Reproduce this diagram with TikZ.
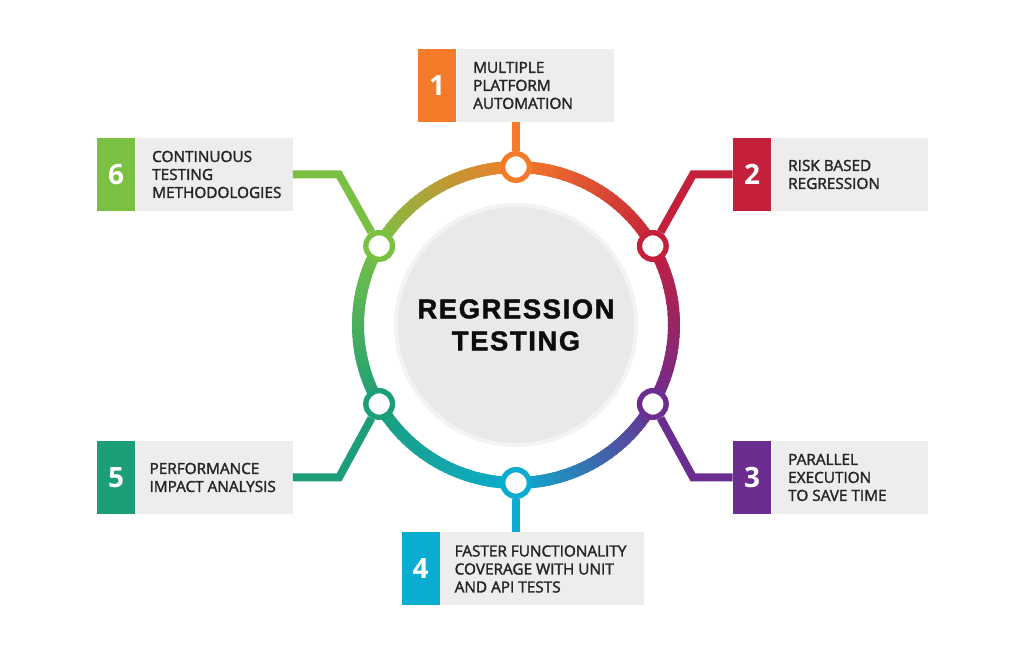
\documentclass[tikz,border=0pt]{standalone}
\usepackage{fontspec}
\setmainfont{Open Sans}
\newfontfamily\hubfont{Liberation Sans}[LetterSpace=6, FakeBold=1.5]
\newfontfamily\boxfont{Open Sans}[FakeBold=2]
\usetikzlibrary{positioning}
\definecolor{cOne}{HTML}{F47B2A}
\definecolor{cTwo}{HTML}{C41F3B}
\definecolor{cThree}{HTML}{6B2D90}
\definecolor{cFour}{HTML}{0AADCF}
\definecolor{cFive}{HTML}{1C9E78}
\definecolor{cSix}{HTML}{7AC143}
\definecolor{boxgrey}{HTML}{EDEDED}
\definecolor{hubgrey}{HTML}{E9E9E9}
\definecolor{hubrim}{HTML}{F3F3F3}
\definecolor{textgrey}{HTML}{262626}
\tikzset{
  numbox/.style={minimum width=28.5pt, minimum height=54.75pt, inner sep=0pt, text=white, font=\bfseries\fontsize{21}{21}\selectfont},
  greybox/.style={fill=boxgrey, minimum height=54.75pt, inner sep=0pt},
  boxtext/.style={align=left, inner sep=0pt, text=textgrey, font=\boxfont\fontsize{11.5}{13.5}\selectfont},
  hub/.style={circle, fill=hubgrey, draw=hubrim, line width=3pt, minimum size=180pt, align=center, text=black!95, font=\hubfont\bfseries\fontsize{20.5}{24}\selectfont},
  ring/.style={line width=9pt},
  link/.style={line width=6pt},
  dot/.style={circle, fill=white, line width=4pt, minimum size=20pt, inner sep=0pt},
}
\begin{document}
\begin{tikzpicture}[x=0.75pt, y=0.75pt]
    \useasboundingbox (0,0) rectangle (1024,656);
    \node[hub] (hub) at (516,331) {REGRESSION\\TESTING};
    % colour ring with the six dots
    \begin{scope}[shift={(516,331)}]
        \foreach \a/\ca/\cb in {90/cOne/cTwo, 30/cTwo/cThree, -30/cThree/cFour, -90/cFour/cFive, -150/cFive/cSix, 150/cSix/cOne}
            \foreach \k in {0,...,29}{
                \pgfmathtruncatemacro\p{100-\k*100/30}
                \draw[ring, \ca!\p!\cb] (\a-2*\k+0.4:118.5pt) arc[start angle=\a-2*\k+0.4, end angle=\a-2*\k-2.4, radius=118.5pt];
            }
        \node[dot, draw=cOne] (n1) at (90:118.5pt) {};
        \node[dot, draw=cTwo] (n2) at (30:118.5pt) {};
        \node[dot, draw=cThree] (n3) at (-30:118.5pt) {};
        \node[dot, draw=cFour] (n4) at (-90:118.5pt) {};
        \node[dot, draw=cFive] (n5) at (-150:118.5pt) {};
        \node[dot, draw=cSix] (n6) at (150:118.5pt) {};
    \end{scope}
    % boxes
    \node[numbox, fill=cOne] (num1) at (437,570.5) {1};
    \node[greybox, minimum width=117.75pt, right=0pt of num1] (box1) {};
    \node[boxtext, right=12.5pt of box1.west] (txt1) {MULTIPLE\\PLATFORM\\AUTOMATION};
    \node[numbox, fill=cTwo] (num2) at (752,481.5) {2};
    \node[greybox, minimum width=117pt, right=0pt of num2] (box2) {};
    \node[boxtext, right=12.5pt of box2.west] (txt2) {RISK BASED\\REGRESSION};
    \node[numbox, fill=cThree] (num3) at (752,178.5) {3};
    \node[greybox, minimum width=117pt, right=0pt of num3] (box3) {};
    \node[boxtext, right=12.5pt of box3.west] (txt3) {PARALLEL\\EXECUTION\\TO SAVE TIME};
    \node[numbox, fill=cFour] (num4) at (420.5,87) {4};
    \node[greybox, minimum width=153pt, right=0pt of num4] (box4) {};
    \node[boxtext, right=11pt of box4.west] (txt4) {FASTER FUNCTIONALITY\\COVERAGE WITH UNIT\\AND API TESTS};
    \node[numbox, fill=cFive] (num5) at (116,178.5) {5};
    \node[greybox, minimum width=117.75pt, right=0pt of num5] (box5) {};
    \node[boxtext, right=10.5pt of box5.west] (txt5) {PERFORMANCE\\IMPACT ANALYSIS};
    \node[numbox, fill=cSix] (num6) at (116,481.5) {6};
    \node[greybox, minimum width=117.75pt, right=0pt of num6] (box6) {};
    \node[boxtext, right=12.5pt of box6.west] (txt6) {CONTINUOUS\\TESTING\\METHODOLOGIES};
    % links
    \coordinate (k2) at (693,481.5);
    \coordinate (k3) at (693,178.5);
    \coordinate (k5) at (339,178.5);
    \coordinate (k6) at (339,481.5);
    \draw[link, cOne] (n1) -- (n1 |- box1.south);
    \draw[link, cTwo] (n2) -- (k2) -- (num2.west);
    \draw[link, cThree] (n3) -- (k3) -- (num3.west);
    \draw[link, cFour] (n4) -- (n4 |- box4.north);
    \draw[link, cFive] (n5) -- (k5) -- (box5.east);
    \draw[link, cSix] (n6) -- (k6) -- (box6.east);
\end{tikzpicture}
\end{document}
